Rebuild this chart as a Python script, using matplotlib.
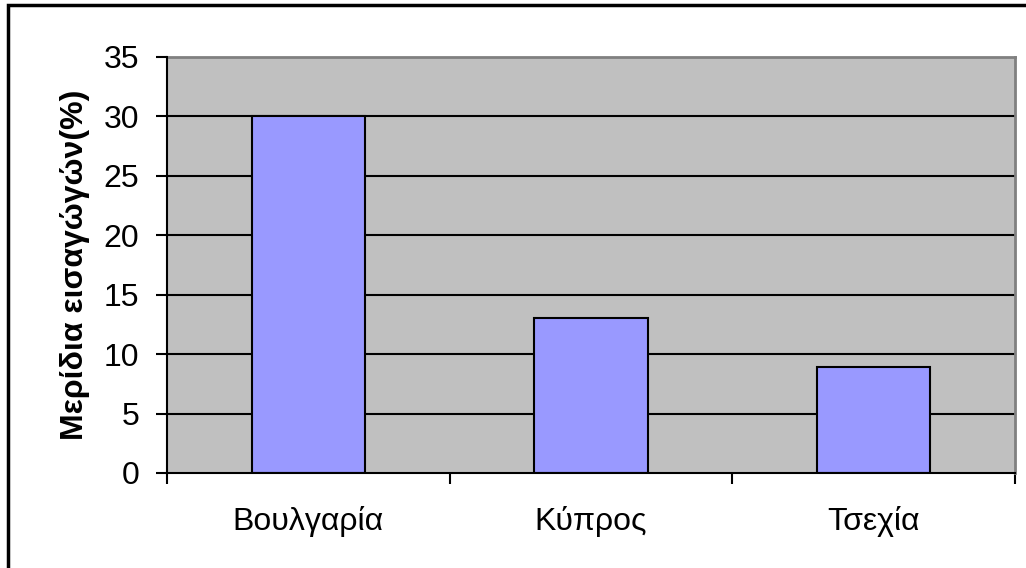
import matplotlib.pyplot as plt
from matplotlib.patches import Rectangle

# 数据
countries = ["Βουλγαρία", "Κύπρος", "Τσεχία"]
shares = [30, 13, 8.9]
y_ticks = [0, 5, 10, 15, 20, 25, 30, 35]
y_label = "Μερίδια εισαγώγών(%)"

plt.rcParams['font.family'] = ['Liberation Sans', 'DejaVu Sans']

fig = plt.figure(figsize=(10.26, 5.68), dpi=100)
ax = fig.add_axes([167 / 1026, 1 - 473 / 568, (1015 - 167) / 1026, (473 - 57) / 568])

# 外框
fig.patches.append(Rectangle((8 / 1026, -0.05), 1.1, 1 - 5 / 568 + 0.05,
                             transform=fig.transFigure, fill=False,
                             edgecolor="black", linewidth=2.5, zorder=0))

ax.set_facecolor("#C0C0C0")
pos = list(range(len(countries)))
ax.bar(pos, shares, width=0.4, color="#9999FF", edgecolor="black", linewidth=1.5, zorder=3)

ax.set_xlim(-0.5, len(countries) - 0.5)
ax.set_ylim(0, 35)
ax.set_yticks(y_ticks)
for t in y_ticks[1:-1]:
    ax.axhline(t, color="black", linewidth=1.5, zorder=2)

ax.set_xticks([p - 0.5 for p in pos] + [len(countries) - 0.5])
ax.set_xticklabels([])
ax.set_xticks(pos, minor=True)
ax.set_xticklabels(countries, minor=True)
ax.tick_params(axis="x", which="major", direction="out", length=8, width=1.5)
ax.tick_params(axis="x", which="minor", length=0, pad=24, labelsize=23)
ax.tick_params(axis="y", direction="out", length=8, width=1.5, labelsize=23, pad=12)

for s in ["top", "right"]:
    ax.spines[s].set_color("#808080")
    ax.spines[s].set_linewidth(2)
for s in ["left", "bottom"]:
    ax.spines[s].set_color("black")
    ax.spines[s].set_linewidth(1.5)
    ax.spines[s].set_zorder(4)

ax.set_ylabel(y_label, fontsize=23, fontweight="bold", labelpad=10)

fig.savefig("out.png", dpi=100)
